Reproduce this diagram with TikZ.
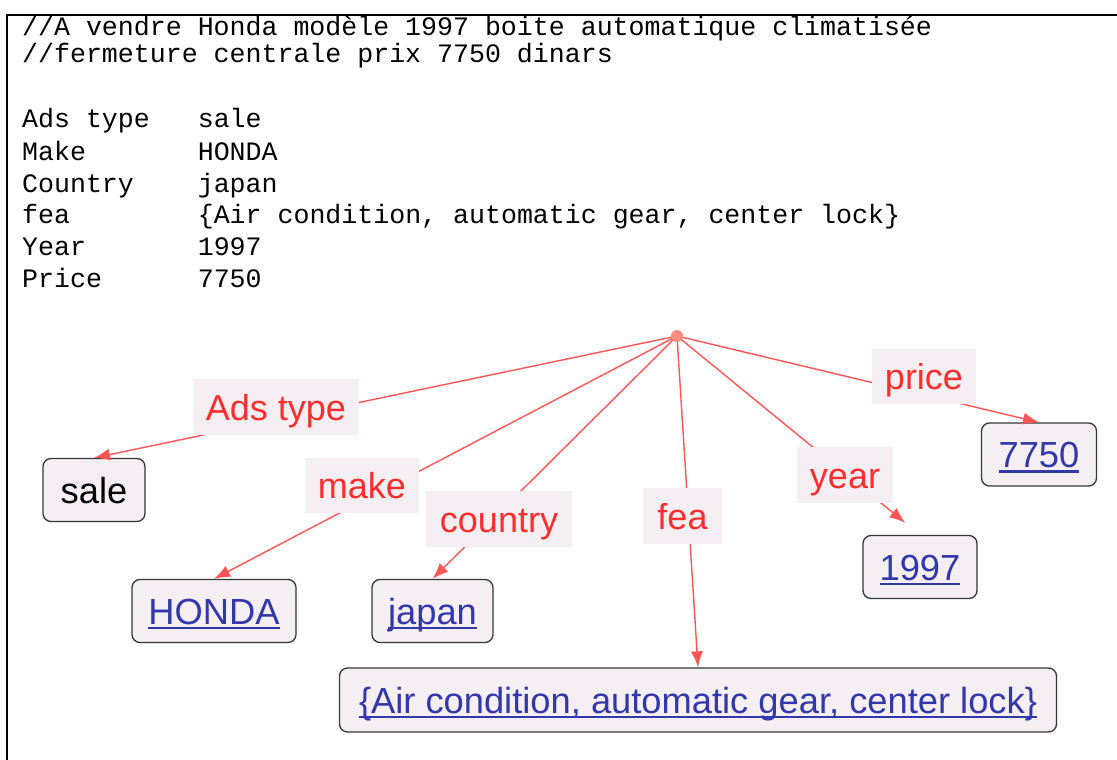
\documentclass[tikz,border=0pt]{standalone}
\usepackage{fontspec}
\setmainfont{Liberation Sans}
\newfontfamily\monofont{Liberation Mono}
\usetikzlibrary{arrows.meta}
\definecolor{edgered}{RGB}{255,85,85}
\definecolor{lblred}{RGB}{255,45,45}
\definecolor{lblbg}{RGB}{245,238,243}
\definecolor{boxline}{RGB}{55,55,55}
\definecolor{linkblue}{RGB}{50,55,170}
\definecolor{rootdot}{RGB}{255,140,125}
\newcommand\ulink[1]{\setbox0=\hbox{#1}\rlap{\rule[-5pt]{\wd0}{2.4pt}}\box0}
\begin{document}
\begin{tikzpicture}[x=1pt,y=-1pt,
  monotext/.style={anchor=base west, inner sep=0pt, font=\monofont\fontsize{26.6}{30}\selectfont},
  edgelbl/.style={fill=lblbg, text=lblred, inner sep=0pt, text height=26pt, text depth=0pt, minimum height=56pt, font=\fontsize{36}{42}\selectfont},
  valbox/.style={draw=boxline, line width=1.3pt, fill=lblbg, rounded corners=8pt, inner sep=0pt, minimum height=63pt, text height=26pt, text depth=0pt, text=linkblue, font=\fontsize{36.3}{42}\selectfont},
  link/.style={draw=edgered, line width=1.4pt, -{Latex[length=16pt,width=12pt]}}]
\useasboundingbox (0,0) rectangle (1117,760);
\fill[white] (0,0) rectangle (1117,760);
% frame
\draw[line width=2pt] (7,760) -- (7,15) -- (1117,15);
% text block
\node[monotext] (t1) at (22,36) {//A vendre Honda modèle 1997 boite automatique climatisée};
\node[monotext] (t2) at (22,63) {//fermeture centrale prix 7750 dinars};
\node[monotext] (k1) at (22,128) {Ads type};
\node[monotext] (v1) at (197.6,128) {sale};
\node[monotext] (k2) at (22,160) {Make};
\node[monotext] (v2) at (197.6,160) {HONDA};
\node[monotext] (k3) at (22,192) {Country};
\node[monotext] (v3) at (197.6,192) {japan};
\node[monotext] (k4) at (22,223) {fea};
\node[monotext] (v4) at (197.6,223) {\{Air condition, automatic gear, center lock\}};
\node[monotext] (k5) at (22,255) {Year};
\node[monotext] (v5) at (197.6,255) {1997};
\node[monotext] (k6) at (22,287) {Price};
\node[monotext] (v6) at (197.6,287) {7750};
% value boxes
\node[valbox, minimum width=102pt, text=black] (sale) at (94,490) {sale};
\node[valbox, minimum width=164pt] (honda) at (214,611) {\ulink{HONDA}};
\node[valbox, minimum width=121pt] (japan) at (432.5,611) {\ulink{japan}};
\node[valbox, minimum width=717pt, minimum height=64pt] (feat) at (698,700) {\ulink{\{Air condition, automatic gear, center lock\}}};
\node[valbox, minimum width=114pt] (y97) at (920,567) {\ulink{1997}};
\node[valbox, minimum width=115pt] (p7750) at (1039,454.5) {\ulink{7750}};
% root
\coordinate (root) at (677,336);
% edges
\draw[link] (root) -- (sale.north);
\draw[link] (root) -- (honda.north);
\draw[link] (root) -- (japan.north);
\draw[link] (root) -- (feat.north);
\draw[link, shorten >=19pt] (root) -- (y97.north);
\draw[link] (root) -- (p7750.north);
% edge labels
\node[edgelbl, minimum width=166pt] (lads) at (276,407) {Ads type};
\node[edgelbl, minimum width=114pt, minimum height=55pt] (lmake) at (362,485.5) {make};
\node[edgelbl, minimum width=146pt] (lcountry) at (499,519) {country};
\node[edgelbl, minimum width=79pt] (lfea) at (682.5,516) {fea};
\node[edgelbl, minimum width=96pt] (lyear) at (845,475) {year};
\node[edgelbl, minimum width=104pt, minimum height=55pt] (lprice) at (924,376.5) {price};
\node[circle, fill=rootdot, inner sep=0pt, minimum size=12pt] (rootdot) at (root) {};
\end{tikzpicture}
\end{document}
